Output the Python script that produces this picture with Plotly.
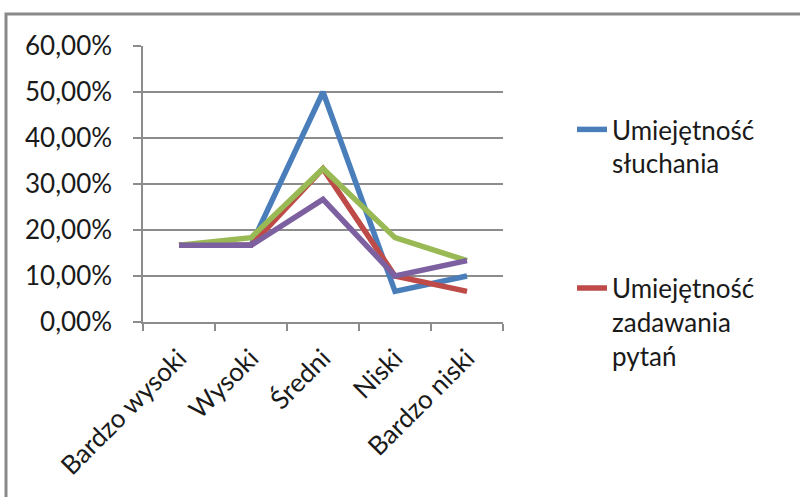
import plotly.graph_objects as go

categories = ["Bardzo wysoki", "Wysoki", "Średni", "Niski", "Bardzo niski"]
series_names = ["Umiejętność<br>słuchania", "Umiejętność<br>zadawania<br>pytań", "Seria 3", "Seria 4"]
blue_vals = [0.1667, 0.1667, 0.50, 0.0667, 0.10]
red_vals = [0.1667, 0.1667, 0.3333, 0.10, 0.0667]
green_vals = [0.1667, 0.1833, 0.3333, 0.1833, 0.1333]
purple_vals = [0.1667, 0.1667, 0.2667, 0.10, 0.1333]
colors = ["#4A7EBB", "#BE4B48", "#98B954", "#7D60A0"]
y_ticks = [0, 0.1, 0.2, 0.3, 0.4, 0.5, 0.6]

FONT = "Lato"
fig = go.Figure()
for i, vals in enumerate([blue_vals, red_vals, green_vals, purple_vals]):
    fig.add_trace(go.Scatter(
        x=categories, y=vals, mode="lines", name=series_names[i],
        line=dict(color=colors[i], width=5.5),
        legendgroup=f"g{i}", showlegend=(i < 2),
    ))

W, H = 800, 497
L, R, T, B = 143, 503, 46, 322
fig.update_layout(
    width=W, height=H,
    margin=dict(l=L, r=W - R, t=T, b=H - B, autoexpand=False),
    paper_bgcolor="white", plot_bgcolor="white",
    separators=", ",
    font=dict(family=FONT, size=26, color="#1a1a1a"),
    showlegend=True,
    legend=dict(
        x=(572 - L) / (R - L), xanchor="left",
        y=(B - 106) / (B - T), yanchor="top",
        valign="top", tracegroupgap=88,
        font=dict(family=FONT, size=26, color="#1a1a1a"),
        bgcolor="rgba(0,0,0,0)",
    ),
    xaxis=dict(
        type="category", tickangle=-45, showgrid=False,
        showline=True, linecolor="#8c8c8c", linewidth=1.5,
        ticks="outside", ticklen=7, tickcolor="#8c8c8c", tickwidth=1.5,
        tickson="boundaries", ticklabelstandoff=9,
        range=[-0.5, 4.5],
    ),
    yaxis=dict(
        range=[0, 0.6], tickvals=y_ticks, tickformat=".2%",
        showgrid=True, gridcolor="#8c8c8c", gridwidth=1.5,
        showline=True, linecolor="#8c8c8c", linewidth=1.5,
        ticks="outside", ticklen=8, tickcolor="#8c8c8c", tickwidth=1.5,
        ticklabelstandoff=16, zeroline=False, fixedrange=True,
    ),
)

# outer chart frame (Excel chart area border), partly outside the window
fig.add_shape(
    type="rect", xref="paper", yref="paper",
    x0=(6 - L) / (R - L), x1=(W + 10 - L) / (R - L),
    y0=(B - (H + 10)) / (B - T), y1=(B - 14) / (B - T),
    line=dict(color="#8a8a8a", width=3), fillcolor="rgba(0,0,0,0)", layer="below",
)

fig.write_html(
    "out.html",
    config={"displayModeBar": False},
    post_script="document.body.style.margin='0';",
)
